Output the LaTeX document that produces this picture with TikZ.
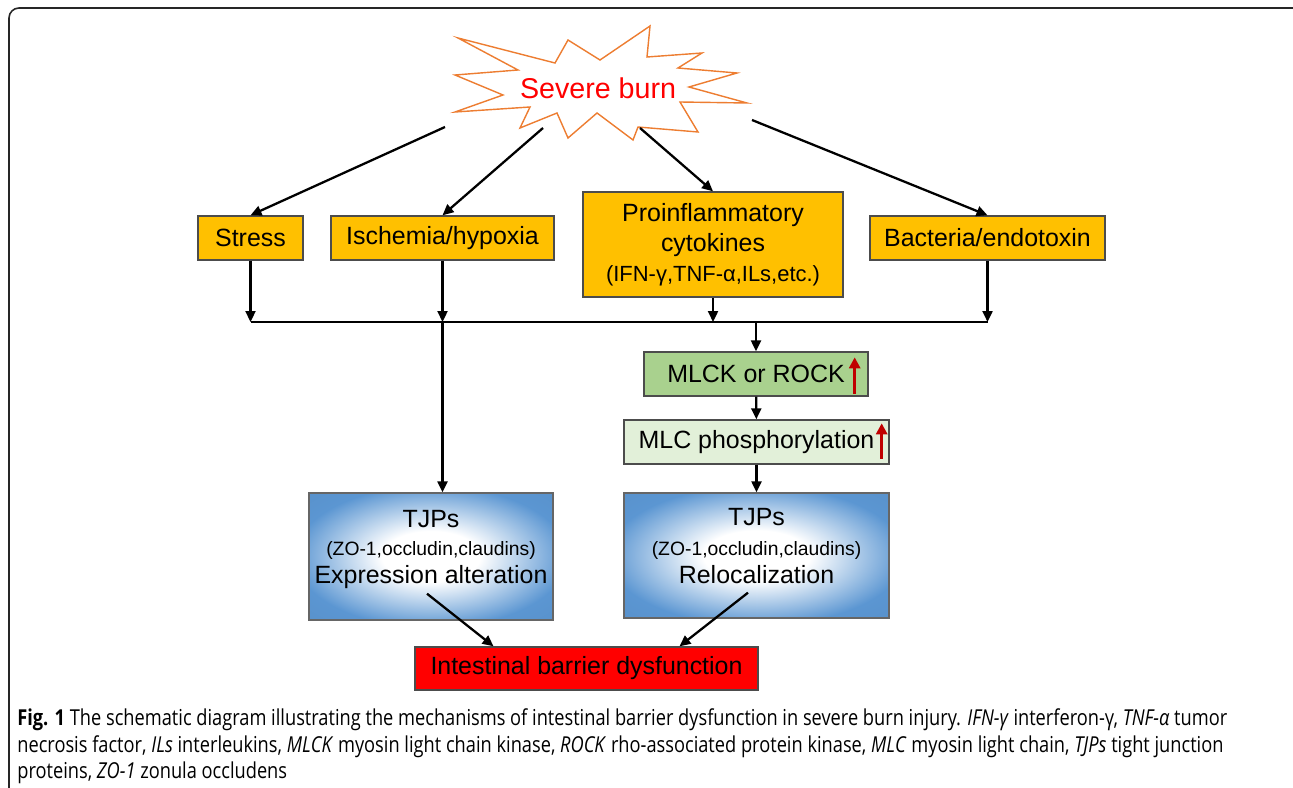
\documentclass[tikz,border=0pt]{standalone}
\usepackage{fontspec}
\setmainfont{Liberation Sans}
\newfontfamily\capfont{Open Sans}[FakeStretch=0.83]
\usetikzlibrary{arrows.meta, calc}
\definecolor{boxOrange}{RGB}{255,192,0}
\definecolor{boxGreen}{RGB}{169,209,142}
\definecolor{boxPale}{RGB}{226,240,217}
\definecolor{tjpBlue}{RGB}{91,150,210}
\definecolor{burstOrange}{RGB}{237,125,49}
\definecolor{upRed}{RGB}{192,0,0}
\pgfdeclareradialshading{tjpglow}{\pgfpoint{0bp}{0bp}}{color(0bp)=(white); color(10bp)=(white); color(28bp)=(tjpBlue); color(50bp)=(tjpBlue!92!black)}

\begin{document}
\begin{tikzpicture}[x=0.02cm, y=-0.02cm,
          frame/.style={draw=black!85, line width=0.9pt, rounded corners=0.2cm},
          burst/.style={draw=burstOrange, line width=0.8pt, fill=white},
          burnlabel/.style={text=red, font=\fontsize{16.3}{19}\selectfont},
          cause/.style={rectangle, draw=black!70, line width=0.8pt, fill=boxOrange, inner sep=0pt,
            minimum height=0.88cm, align=center, font=\fontsize{14.2}{17}\selectfont},
          kinase/.style={cause, fill=boxGreen},
          phos/.style={cause, fill=boxPale},
          tjp/.style={rectangle, draw=black!60, line width=0.8pt, shading=tjpglow, inner sep=0pt,
            align=center, font=\fontsize{14.2}{16}\selectfont},
          outcome/.style={cause, fill=red, minimum height=0.86cm},
          link/.style={-{Triangle[length=0.22cm,width=0.2cm]}, line width=1.3pt},
          bus/.style={line width=1.3pt},
          rise/.style={-{Triangle[length=0.22cm,width=0.22cm]}, line width=1.8pt, upRed},
          caption/.style={anchor=north west, align=left, inner sep=0pt, text=black,
            font=\capfont\fontsize{12.5}{15.3}\selectfont}]
        \useasboundingbox (0,0) rectangle (1293,787);
        \draw[frame] (9,8) rectangle (1330,820);
        \draw[burst] (458,38) -- (555,63) -- (568,40) -- (600,60) -- (650,26) -- (647,57) -- (702,53)
          -- (678,68) -- (737,73) -- (689,87) -- (747,103) -- (680,102) -- (698,132) -- (638,127)
          -- (633,140) -- (597,113) -- (568,138) -- (557,113) -- (520,128) -- (530,107) -- (455,112)
          -- (503,95) -- (455,75) -- (518,70) -- cycle;
        \node[burnlabel] (burn) at (598,88) {Severe burn};
        \node[cause, minimum width=2.1cm] (stress) at (250.5,238) {Stress};
        \node[cause, minimum width=4.46cm] (isch) at (442.5,238) {Ischemia/hypoxia};
        \node[cause, minimum width=5.2cm, minimum height=2.1cm] (cyto) at (713,244.5)
          {Proinflammatory\\cytokines\\{\fontsize{12.5}{17}\selectfont(IFN-γ,TNF-α,ILs,etc.)}};
        \node[cause, minimum width=4.7cm] (bact) at (987.5,238) {Bacteria/endotoxin};
        \node[kinase, minimum width=4.48cm] (mlck) at (756,374) {MLCK or ROCK};
        \node[phos, minimum width=5.3cm] (mlc) at (756.5,442) {MLC phosphorylation};
        \node[tjp, minimum width=4.88cm, minimum height=2.54cm] (tjpL) at (431,556.5)
          {TJPs\\{\fontsize{11}{16}\selectfont(ZO-1,occludin,claudins)}\\Expression alteration\\[-5pt]\mbox{}};
        \node[tjp, minimum width=5.3cm, minimum height=2.5cm] (tjpR) at (756.5,555.5)
          {TJPs\\[1pt]{\fontsize{11}{16}\selectfont(ZO-1,occludin,claudins)}\\Relocalization\\[-5pt]\mbox{}};
        \node[outcome, minimum width=6.86cm] (ibd) at (586.5,668.5) {Intestinal barrier dysfunction};
        \coordinate (s1) at (445,127);
        \coordinate (s2) at (543,128);
        \coordinate (s3) at (640,128);
        \coordinate (s4) at (752,120);
        \foreach \s/\t in {s1/stress, s2/isch, s3/cyto, s4/bact}{\draw[link] (\s) -- (\t.north);}
        \coordinate (busL) at (250.5,322);
        \coordinate (busR) at (988,322);
        \draw[bus] (busL) -- (busR);
        \foreach \t in {stress, isch, cyto, bact}{\draw[link] (\t.south) -- (\t.south |- busL);}
        \draw[link] (isch.south |- busL) -- (isch.south |- tjpL.north);
        \draw[link] (mlck.north |- busL) -- (mlck.north);
        \draw[link] (mlck) -- (mlc);
        \draw[link] (mlc) -- (tjpR);
        \draw[link] ($(tjpL.south)+(-4,-27)$) -- ($(ibd.north)+(-93,0)$);
        \draw[link] ($(tjpR.south)+(-8.5,-26)$) -- ($(ibd.north)+(93,0)$);
        \draw[rise] ($(mlck.south east)+(-14,-3)$) -- ($(mlck.north east)+(-14,6)$);
        \draw[rise] ($(mlc.south east)+(-8,-6)$) -- ($(mlc.north east)+(-8,4)$);
        \node[caption] (cap) at (17,708)
          {\textbf{Fig. 1} The schematic diagram illustrating the mechanisms of intestinal barrier dysfunction in severe burn injury. \textit{IFN-γ} interferon-γ, \textit{TNF-α} tumor\\
           necrosis factor, \textit{ILs} interleukins, \textit{MLCK} myosin light chain kinase, \textit{ROCK} rho-associated protein kinase, \textit{MLC} myosin light chain, \textit{TJPs} tight junction\\
           proteins, \textit{ZO-1} zonula occludens};
      \end{tikzpicture}
\end{document}
